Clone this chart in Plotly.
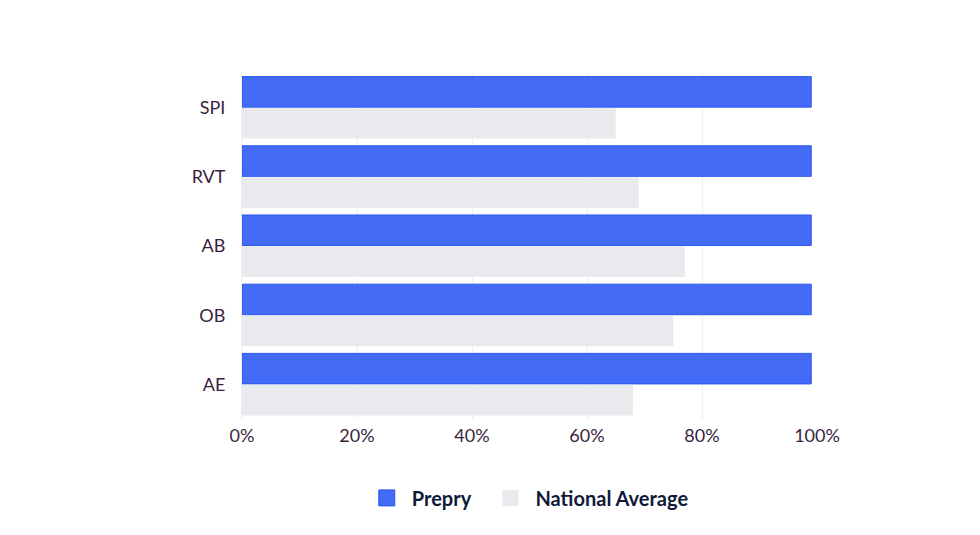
import plotly.graph_objects as go

categories = ["SPI", "RVT", "AB", "OB", "AE"]
prepry = [99, 99, 99, 99, 99]
national = [65, 69, 77, 75, 68]
tick_vals = [0, 20, 40, 60, 80, 100]
tick_text = ["0%", "20%", "40%", "60%", "80%", "100%"]

BLUE = "#446BF5"
BLUE_EDGE = "#2B58EE"
GREY = "#E9EAEE"
FONT = "Lato"

fig = go.Figure()
fig.add_trace(go.Bar(y=categories, x=prepry, orientation="h", name="Prepry",
                     marker=dict(color=BLUE, line=dict(color=BLUE_EDGE, width=1)), showlegend=False))
fig.add_trace(go.Bar(y=categories, x=national, orientation="h", name="National Average",
                     marker=dict(color=GREY, line=dict(width=0)), showlegend=False))
# legend entries
fig.add_trace(go.Scatter(x=[None], y=[None], mode="markers", name="Prepry  ",
                         marker=dict(symbol="square", size=16, color=BLUE, line=dict(color=BLUE_EDGE, width=1))))
fig.add_trace(go.Scatter(x=[None], y=[None], mode="markers", name="National Average",
                         marker=dict(symbol="square", size=16, color=GREY, line=dict(width=0))))

fig.update_layout(
    width=980, height=535,
    margin=dict(l=242, r=163, t=73, b=116),
    paper_bgcolor="white", plot_bgcolor="white",
    barmode="group", bargap=0.09, bargroupgap=0.03,
    font=dict(family=FONT, color="#3B1F40", size=18),
    legend=dict(orientation="h", x=0.497, xanchor="center", y=-0.228, yanchor="middle",
                font=dict(family=FONT, size=20, color="#0F1A3A", weight="bold"),
                itemwidth=40, tracegroupgap=0),
    xaxis=dict(range=[0, 100], tickvals=tick_vals, ticktext=tick_text,
               showgrid=True, gridcolor="#EEEEF0", gridwidth=1, zeroline=False,
               showline=False, ticks="", ticklabelstandoff=4,
               tickfont=dict(family=FONT, size=18, color="#3B1F40")),
    yaxis=dict(categoryorder="array", categoryarray=categories, autorange="reversed",
               showgrid=False, zeroline=False, showline=True, linecolor="#EEEEF0",
               ticks="", ticklabelstandoff=12,
               tickfont=dict(family=FONT, size=18, color="#3B1F40")),
)

fig.write_html("out.html")
